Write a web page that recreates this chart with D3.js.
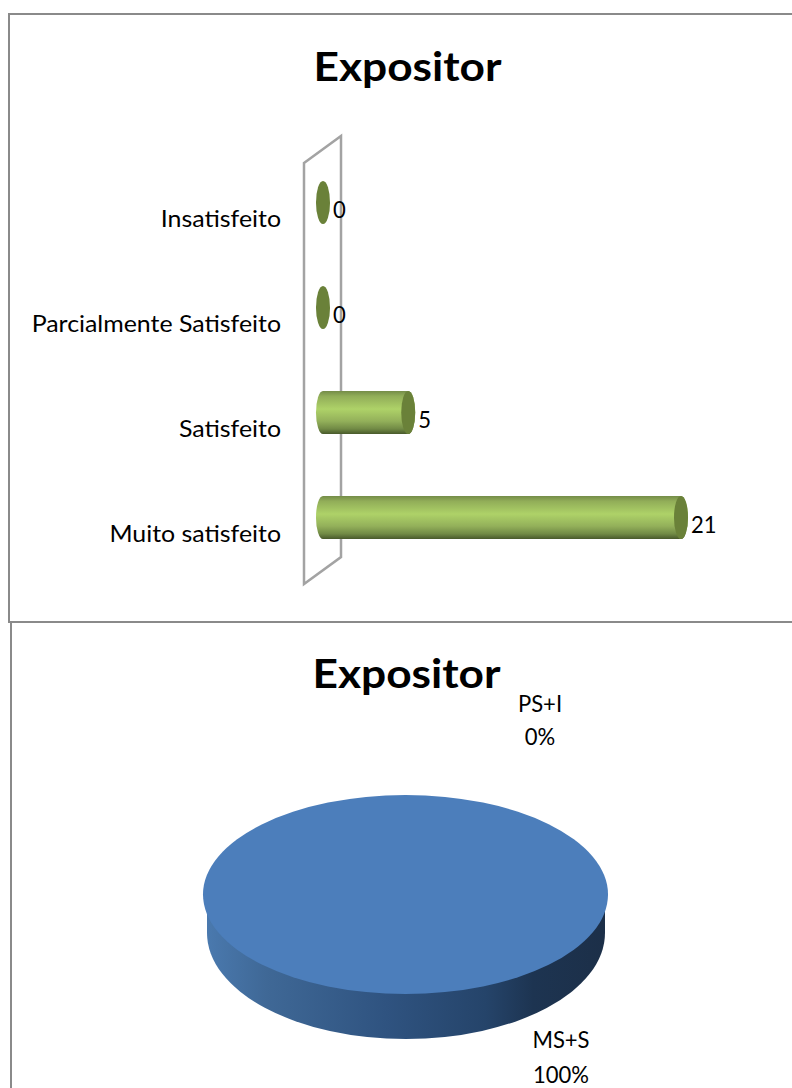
<!DOCTYPE html>
<html>
<head>
<meta charset="utf-8">
<script src="https://cdnjs.cloudflare.com/ajax/libs/d3/7.8.5/d3.min.js"></script>
<style>
    html, body { margin: 0; padding: 0; background: #fff; }
    svg { display: block; }
    text { font-family: Lato, "Open Sans", sans-serif; fill: #000; }
    .axis path, .axis line { display: none; }
    .axis text { font-family: Lato, "Open Sans", sans-serif; font-size: 22.5px; fill: #000; }
    .pie-label { font-size: 22.5px; }
    .value { font-size: 24px; }
    .title { font-size: 40px; font-weight: 700; text-anchor: middle; }
</style>
</head>
<body>
<div id="chart"></div>
<script>
// Bar chart data
var categories = ["Insatisfeito", "Parcialmente Satisfeito", "Satisfeito", "Muito satisfeito"];
var barValues = [0, 0, 5, 21];
var barTitle = "Expositor";

// Pie chart data
var pieCategories = ["MS+S", "PS+I"];
var pieValues = [100, 0];
var pieShares = ["100%", "0%"];
var pieTitle = "Expositor";

var width = 792, height = 1088;

// the original font is narrower/wider than Lato depending on the block, so text gets stretched
function stretched(px, py, sx) {
    return "translate(" + px + "," + py + ") scale(" + sx + ",1)";
}

var svg = d3.select("#chart").append("svg")
    .attr("width", width)
    .attr("height", height);

var defs = svg.append("defs");

function addGradient(id, x2, y2, stops) {
    var g = defs.append("linearGradient")
        .attr("id", id)
        .attr("x1", "0").attr("y1", "0")
        .attr("x2", x2).attr("y2", y2);
    stops.forEach(function(s) {
        g.append("stop").attr("offset", s[0]).attr("stop-color", s[1]);
    });
}

addGradient("barFill", "0", "1", [
    [0, "#748c48"], [0.12, "#91ad58"], [0.42, "#aed268"],
    [0.7, "#93b05a"], [0.88, "#718a45"], [1, "#48592b"]
]);
addGradient("pieSide", "1", "0", [
    [0, "#4a79ae"], [0.15, "#3f6896"], [0.45, "#2f5380"],
    [0.7, "#25446a"], [0.82, "#1d3451"], [1, "#1c2f48"]
]);

// Frames
var frameColor = "#8a8a8a";
svg.append("path")
    .attr("d", "M" + width + ",14H9V622H" + width)
    .attr("fill", "none")
    .attr("stroke", frameColor)
    .attr("stroke-width", 2);
svg.append("path")
    .attr("d", "M11,622V" + height)
    .attr("fill", "none")
    .attr("stroke", frameColor)
    .attr("stroke-width", 2);

// ---- Bar chart ----
var x = d3.scaleLinear()
    .domain([0, 21])
    .range([323, 681]);

var y = d3.scalePoint()
    .domain(categories)
    .range([202.5, 517.5]);

var capRx = 7, capRy = 21.5, wallDepth = 37, wallRise = 27;

// back wall
var wallLeft = 304, wallRight = wallLeft + wallDepth, wallTop = 136, wallBottom = 557;
svg.append("path")
    .attr("d", "M" + wallLeft + "," + (wallTop + wallRise) + "L" + wallRight + "," + wallTop +
        "V" + wallBottom + "L" + wallLeft + "," + (wallBottom + wallRise) + "Z")
    .attr("fill", "#fff")
    .attr("stroke", "#a3a3a3")
    .attr("stroke-width", 2.5);

svg.append("text")
    .attr("class", "title")
    .attr("transform", stretched(407.5, 81, 1.107))
    .text(barTitle);

var bars = svg.selectAll("g.bar")
    .data(categories)
    .enter().append("g")
    .attr("class", "bar")
    .attr("transform", function(d) { return "translate(0," + y(d) + ")"; });

bars.filter(function(d, i) { return barValues[i] > 0; })
    .append("path")
    .attr("d", function(d) {
        var x1 = x(barValues[categories.indexOf(d)]);
        return "M" + x(0) + "," + (-capRy) +
            "A" + capRx + "," + capRy + " 0 0 0 " + x(0) + "," + capRy +
            "H" + x1 +
            "A" + capRx + "," + capRy + " 0 0 0 " + x1 + "," + (-capRy) + "Z";
    })
    .attr("fill", "url(#barFill)");

bars.append("ellipse")
    .attr("cx", function(d) { return x(barValues[categories.indexOf(d)]); })
    .attr("rx", capRx)
    .attr("ry", capRy)
    .attr("fill", "#6a8139");

bars.append("text")
    .attr("class", "value")
    .attr("transform", function(d) {
        return stretched(x(barValues[categories.indexOf(d)]) + 10, 15, 0.92);
    })
    .text(function(d) { return barValues[categories.indexOf(d)]; });

// category axis
svg.append("g")
    .attr("class", "axis")
    .attr("transform", "translate(281,17)")
    .call(d3.axisLeft(y).tickSize(0).tickPadding(0))
    .selectAll("text")
    .attr("dy", "0.32em")
    .attr("transform", "scale(1.107,1)");

// ---- Pie chart ----
var pieCx = 405.5, pieCy = 894.5, pieRx = 202.5, pieRy = 99.5;
var sideCx = 406, sideCy = 933, sideRx = 199, sideRy = 106;

svg.append("path")
    .attr("d", "M" + (sideCx - sideRx) + "," + pieCy + "V" + sideCy +
        "A" + sideRx + "," + sideRy + " 0 0 0 " + (sideCx + sideRx) + "," + sideCy +
        "V" + pieCy + "Z")
    .attr("fill", "url(#pieSide)");

var pie = d3.pie().sort(null)(pieValues);
var arc = d3.arc().innerRadius(0).outerRadius(pieRx);

svg.append("g")
    .attr("transform", "translate(" + pieCx + "," + pieCy + ") scale(1," + (pieRy / pieRx) + ")")
    .selectAll("path")
    .data(pie)
    .enter().append("path")
    .attr("d", arc)
    .attr("fill", "#4c7ebb");

svg.append("text")
    .attr("class", "title")
    .attr("transform", stretched(406.5, 688, 1.107))
    .text(pieTitle);

var pieLabelPos = [[540, 712, 745], [561, 1048, 1083]];
pieLabelPos.reverse();

var pieLabels = svg.selectAll("g.pie-label")
    .data(pieCategories)
    .enter().append("g")
    .attr("class", "pie-label")
    .attr("text-anchor", "middle");

pieLabels.append("text")
    .attr("transform", function(d, i) { return stretched(pieLabelPos[i][0], pieLabelPos[i][1], 0.98); })
    .text(function(d) { return d; });

pieLabels.append("text")
    .attr("transform", function(d, i) { return stretched(pieLabelPos[i][0], pieLabelPos[i][2], 0.98); })
    .text(function(d, i) { return pieShares[i]; });
</script>
</body>
</html>
